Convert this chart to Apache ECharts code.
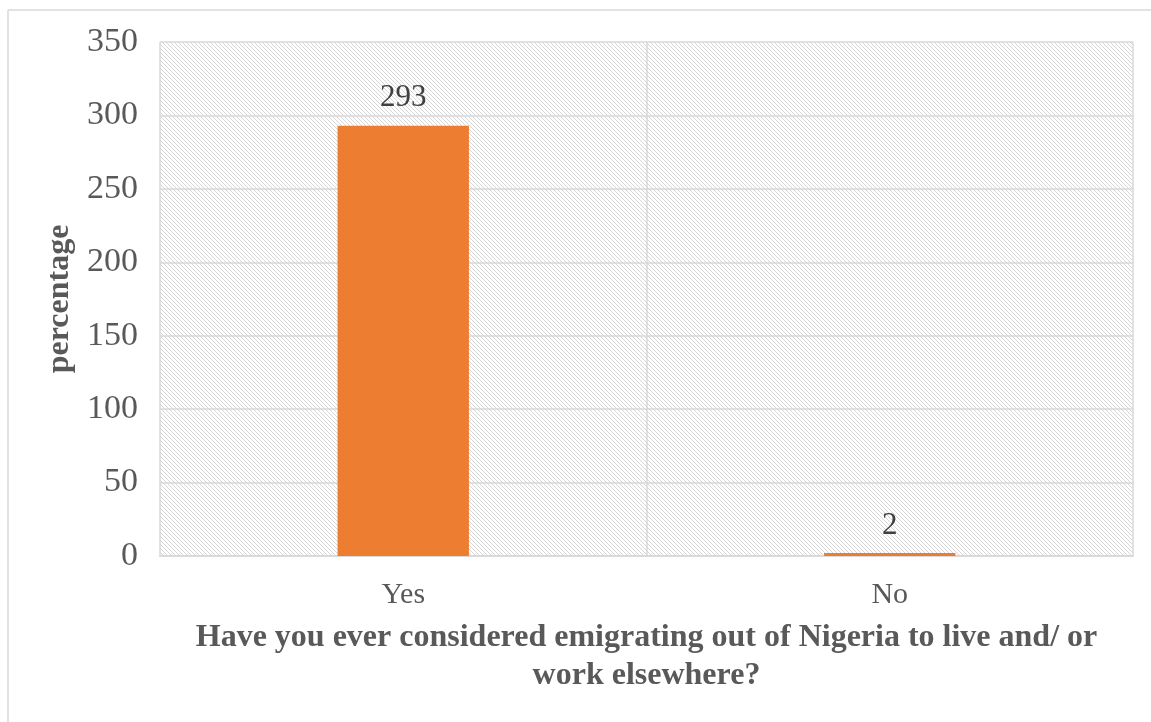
<!DOCTYPE html>
<html>
<head>
<meta charset="utf-8">
<script src="https://cdn.jsdelivr.net/npm/echarts@6/dist/echarts.min.js"></script>
<style>
html,body{margin:0;padding:0;background:#fff;}
#c{width:1151px;height:722px;}
</style>
</head>
<body>
<div id="c"></div>
<script>
const categories = ['Yes', 'No'];
const values = [293, 2];
const yTicks = [0, 50, 100, 150, 200, 250, 300, 350];
const yAxisTitle = 'percentage';
const xAxisTitle = 'Have you ever considered emigrating out of Nigeria to live and/ or\nwork elsewhere?';

// hatch pattern
const pc = document.createElement('canvas');
pc.width = 4; pc.height = 4;
const pctx = pc.getContext('2d');
pctx.fillStyle = '#ffffff';
pctx.fillRect(0, 0, 4, 4);
pctx.fillStyle = '#d6d6d6';
for (let i = 0; i < 4; i++) { pctx.fillRect(i, i, 1, 1); }

const chart = echarts.init(document.getElementById('c'));
const font = '"Liberation Serif", "Times New Roman", serif';
chart.setOption({
  backgroundColor: '#ffffff',
  animation: false,
  textStyle: { fontFamily: font },
  graphic: [
    { type: 'line', shape: { x1: 8, y1: 10, x2: 1151, y2: 10 }, style: { stroke: '#d9d9d9', lineWidth: 1.5 } },
    { type: 'line', shape: { x1: 8, y1: 10, x2: 8, y2: 722 }, style: { stroke: '#d9d9d9', lineWidth: 1.5 } }
  ],
  grid: {
    left: 160, right: 18, top: 42, bottom: 166,
    show: true, borderWidth: 0,
    backgroundColor: { image: pc, repeat: 'repeat' }
  },
  xAxis: {
    type: 'category',
    data: categories,
    boundaryGap: true,
    axisLine: { show: true, lineStyle: { color: '#d9d9d9', width: 2 } },
    axisTick: { show: false },
    splitLine: { show: true, lineStyle: { color: '#d9d9d9', width: 1.5 } },
    axisLabel: { color: '#595959', fontSize: 30, fontFamily: font, margin: 24 },
    name: xAxisTitle,
    nameLocation: 'middle',
    nameGap: 63,
    nameTextStyle: { color: '#595959', fontSize: 32, fontWeight: 'bold', fontFamily: font, lineHeight: 38, verticalAlign: 'top' }
  },
  yAxis: {
    type: 'value',
    min: 0, max: 350, interval: 50,
    axisLine: { show: false },
    axisTick: { show: false },
    splitLine: { show: true, lineStyle: { color: '#d9d9d9', width: 1.5 } },
    axisLabel: { color: '#595959', fontSize: 34, fontFamily: font, margin: 22,
      formatter: v => yTicks.includes(v) ? String(v) : '' },
    name: yAxisTitle,
    nameLocation: 'middle',
    nameGap: 78,
    nameTextStyle: { color: '#595959', fontSize: 32, fontWeight: 'bold', fontFamily: font }
  },
  series: [{
    type: 'bar',
    data: values,
    barWidth: '27%',
    itemStyle: { color: '#ed7d31' },
    label: { show: true, position: 'top', distance: 12, color: '#404040', fontSize: 31, fontFamily: font }
  }]
});
</script>
</body>
</html>
